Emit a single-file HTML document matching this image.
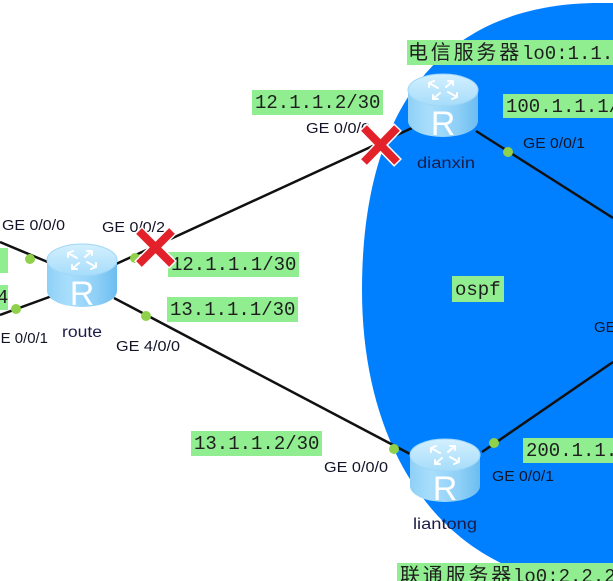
<!DOCTYPE html>
<html><head><meta charset="utf-8"><style>
html,body{margin:0;padding:0;background:#fff;width:613px;height:581px;overflow:hidden}
svg{display:block}
.mono{font-family:"Liberation Mono","Noto Sans CJK SC",monospace;font-size:19px;fill:#1e1e1e}
.ge{font-family:"Liberation Sans",Arial,sans-serif;font-size:15px;fill:#141428}
.nm{font-family:"Liberation Sans",Arial,sans-serif;font-size:15.5px;fill:#1c1c48}
.cjk{font-family:"Noto Sans CJK SC","WenQuanYi Zen Hei",sans-serif;font-size:20px;fill:#1e1e1e;letter-spacing:2.8px}
</style></head><body>
<svg width="613" height="581" viewBox="0 0 613 581" xmlns="http://www.w3.org/2000/svg">
<defs>
<linearGradient id="bodyg" x1="0" y1="0" x2="1" y2="0">
<stop offset="0" stop-color="#8ed0f6"/><stop offset="0.3" stop-color="#a9defc"/><stop offset="0.7" stop-color="#8fd0f7"/><stop offset="1" stop-color="#6cbdf0"/>
</linearGradient>
<linearGradient id="capg" x1="0" y1="0" x2="0" y2="1">
<stop offset="0" stop-color="#d3f0ff"/><stop offset="1" stop-color="#a6dcfa"/>
</linearGradient>
<g id="router">
<path d="M0,16 L0,47 A35,16 0 0 0 70,47 L70,16 Z" fill="url(#bodyg)"/>
<ellipse cx="35" cy="16" rx="35" ry="16" fill="url(#capg)" stroke="#9fd6f6" stroke-width="1"/>
<g stroke="#fff" stroke-width="2" fill="none" stroke-linecap="round" stroke-linejoin="round">
<path d="M21,9 L30,14 M21,9 L26,7 M21,9 L21,13"/>
<path d="M49,23 L40,18 M49,23 L44,25 M49,23 L49,19"/>
<path d="M45,7 L38,13 M45,7 L40,7 M45,7 L45,11"/>
<path d="M25,25 L32,19 M25,25 L30,25 M25,25 L25,21"/>
</g>
<text x="35" y="61" text-anchor="middle" font-family="Liberation Sans,Arial,sans-serif" font-size="34" fill="#fff">R</text>
</g>
</defs>

<path d="M600,3 C445.3,3 362,103.4 362,290 C362,467 457.2,585 600,585 L900,585 L900,3 Z" fill="#0080ff"/>

<g stroke="#111" stroke-width="2.5" fill="none">
<line x1="0" y1="242" x2="50" y2="263"/>
<line x1="0" y1="315" x2="52" y2="296"/>
<line x1="116" y1="264" x2="412" y2="128"/>
<line x1="114" y1="298" x2="412" y2="455"/>
<line x1="476" y1="131" x2="613" y2="218"/>
<line x1="482" y1="452" x2="613" y2="362"/>
</g>

<use href="#router" x="47" y="244"/>
<use href="#router" x="408" y="74"/>
<use href="#router" x="410" y="439"/>

<g fill="#8fd14a">
<circle cx="30" cy="259" r="5"/>
<circle cx="16" cy="309" r="5"/>
<circle cx="135" cy="258" r="5"/>
<circle cx="146" cy="316" r="5"/>
<circle cx="394" cy="449" r="5"/>
<circle cx="494" cy="443" r="5"/>
<circle cx="508" cy="152" r="5"/>
</g>

<g fill="#90ee90">
<rect x="252" y="90" width="131" height="25"/>
<rect x="168" y="252" width="131" height="25"/>
<rect x="167" y="297" width="131" height="25"/>
<rect x="191" y="431" width="131" height="25"/>
<rect x="503" y="94" width="120" height="24"/>
<rect x="523" y="438" width="100" height="25"/>
<rect x="407" y="40" width="220" height="25"/>
<rect x="397" y="563" width="230" height="25"/>
<rect x="452" y="276" width="52" height="26"/>
<rect x="-50" y="248" width="58" height="25"/>
<rect x="-50" y="285" width="58" height="25"/>
</g>

<text class="mono" x="255" y="108">12.1.1.2/30</text>
<text class="mono" x="171" y="270">12.1.1.1/30</text>
<text class="mono" x="170" y="315">13.1.1.1/30</text>
<text class="mono" x="194" y="449">13.1.1.2/30</text>
<text class="mono" x="506" y="112">100.1.1.1/30</text>
<text class="mono" x="526" y="456">200.1.1.1/30</text>
<text class="mono" x="455" y="295">ospf</text>
<text class="mono" x="-14.4" y="303">.4</text>
<text x="408" y="59"><tspan class="cjk">电信服务器</tspan><tspan class="mono" x="522">lo0:1.1.1.1/32</tspan></text>
<text x="400" y="582"><tspan class="cjk">联通服务器</tspan><tspan class="mono" x="513">lo0:2.2.2.2/32</tspan></text>

<text class="ge" x="2" y="230" textLength="63" lengthAdjust="spacingAndGlyphs">GE 0/0/0</text>
<text class="ge" x="-11" y="343" textLength="59" lengthAdjust="spacingAndGlyphs">GE 0/0/1</text>
<text class="ge" x="102" y="232" textLength="63" lengthAdjust="spacingAndGlyphs">GE 0/0/2</text>
<text class="ge" x="116" y="351" textLength="64" lengthAdjust="spacingAndGlyphs">GE 4/0/0</text>
<text class="ge" x="306" y="133" textLength="64" lengthAdjust="spacingAndGlyphs">GE 0/0/0</text>
<text class="ge" x="523" y="148" textLength="62" lengthAdjust="spacingAndGlyphs">GE 0/0/1</text>
<text class="ge" x="324" y="472" textLength="64" lengthAdjust="spacingAndGlyphs">GE 0/0/0</text>
<text class="ge" x="492" y="481" textLength="62" lengthAdjust="spacingAndGlyphs">GE 0/0/1</text>
<text class="ge" x="594" y="332">GE</text>

<text class="nm" x="62" y="337" textLength="40" lengthAdjust="spacingAndGlyphs">route</text>
<text class="nm" x="417" y="168" textLength="58" lengthAdjust="spacingAndGlyphs">dianxin</text>
<text class="nm" x="413" y="529" textLength="64" lengthAdjust="spacingAndGlyphs">liantong</text>

<g stroke-linecap="butt">
<g stroke="#fff" stroke-width="11">
<line x1="138" y1="230" x2="173" y2="265"/><line x1="173" y1="230" x2="138" y2="265"/>
<line x1="363" y1="127" x2="398" y2="163"/><line x1="398" y1="127" x2="363" y2="163"/>
</g>
<g stroke="#e3212b" stroke-width="8">
<line x1="139" y1="231" x2="172" y2="264"/><line x1="172" y1="231" x2="139" y2="264"/>
<line x1="364" y1="128" x2="397" y2="162"/><line x1="397" y1="128" x2="364" y2="162"/>
</g>
</g>
</svg>
</body></html>
